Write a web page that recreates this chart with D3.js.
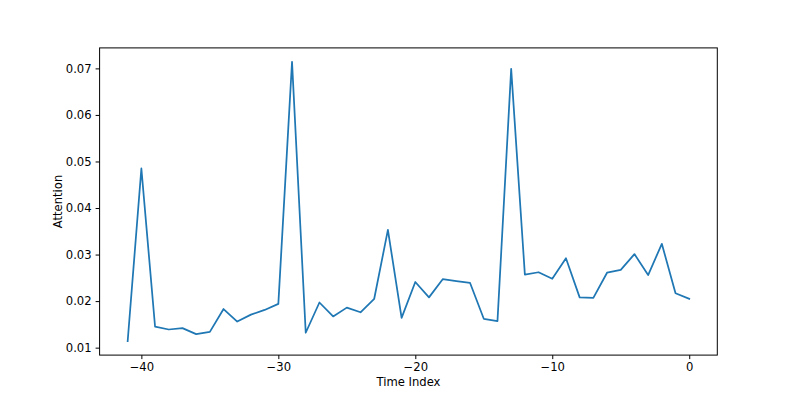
<!DOCTYPE html>
<html>
<head>
<meta charset="utf-8">
<script src="https://cdn.jsdelivr.net/npm/d3@7"></script>
<style>
  body { margin: 0; background: #fff; }
  svg { display: block; }
  .tick text { font-family: "DejaVu Sans", sans-serif; font-size: 11.6px; fill: #000; }
  .label { font-family: "DejaVu Sans", sans-serif; font-size: 11.6px; fill: #000; }
</style>
</head>
<body>
<svg id="chart"></svg>
<script>
var width = 797;
var height = 399;
var margin = {top: 47.9, right: 79.7, bottom: 43.9, left: 99.6};
var widthInner = width - margin.left - margin.right;
var heightInner = height - margin.top - margin.bottom;

// data
var timeIndex = d3.range(-41, 1);
var attention = [0.0114, 0.0485, 0.0145, 0.0139, 0.0142, 0.0129, 0.0134, 0.0183, 0.0156, 0.0171,
	0.0181, 0.0194, 0.0714, 0.0132, 0.0197, 0.0167, 0.0186, 0.0176, 0.0205, 0.0353,
	0.0164, 0.0241, 0.0208, 0.0247, 0.0243, 0.0239, 0.0162, 0.0157, 0.0699, 0.0257,
	0.0262, 0.0248, 0.0292, 0.0208, 0.0207, 0.0261, 0.0267, 0.0301, 0.0256, 0.0323,
	0.0217, 0.0205];
var xTicks = [-40, -30, -20, -10, 0];
var yTicks = [0.01, 0.02, 0.03, 0.04, 0.05, 0.06, 0.07];

var data = timeIndex.map(function(t, i) { return {t: t, v: attention[i]}; });

var svg = d3.select('#chart')
	.attr('width', width)
	.attr('height', height);

var g = svg.append('g')
	.attr('transform', 'translate(' + margin.left + ',' + margin.top + ')');

// matplotlib style 5% margins
var xExt = d3.extent(timeIndex);
var xPad = (xExt[1] - xExt[0]) * 0.05;
var yExt = d3.extent(attention);
var yPad = (yExt[1] - yExt[0]) * 0.05;

var x = d3.scaleLinear()
	.domain([xExt[0] - xPad, xExt[1] + xPad])
	.range([0, widthInner]);

var y = d3.scaleLinear()
	.domain([yExt[0] - yPad, yExt[1] + yPad])
	.range([heightInner, 0]);

var xAxis = d3.axisBottom(x)
	.tickValues(xTicks)
	.tickSize(4)
	.tickPadding(4)
	.tickFormat(function(d) { return d < 0 ? '\u2212' + Math.abs(d) : d; });

var yAxis = d3.axisLeft(y)
	.tickValues(yTicks)
	.tickSize(4)
	.tickPadding(4)
	.tickFormat(d3.format('.2f'));

var gx = g.append('g')
	.attr('transform', 'translate(0,' + heightInner + ')')
	.call(xAxis);

var gy = g.append('g')
	.call(yAxis);

[gx, gy].forEach(function(a) {
	a.select('.domain').remove();
	a.selectAll('.tick line').attr('stroke', '#000').attr('stroke-width', 1);
});

g.append('path')
	.datum(data)
	.attr('fill', 'none')
	.attr('stroke', '#1f77b4')
	.attr('stroke-width', 1.75)
	.attr('stroke-linejoin', 'round')
	.attr('stroke-linecap', 'square')
	.attr('d', d3.line()
		.x(function(d) { return x(d.t); })
		.y(function(d) { return y(d.v); }));

g.append('rect')
	.attr('width', widthInner)
	.attr('height', heightInner)
	.attr('fill', 'none')
	.attr('stroke', '#000')
	.attr('stroke-width', 1);

g.append('text')
	.attr('class', 'label')
	.attr('x', widthInner / 2)
	.attr('y', heightInner + 31)
	.attr('text-anchor', 'middle')
	.text('Time Index');

g.append('text')
	.attr('class', 'label')
	.attr('transform', 'translate(-38,' + (heightInner / 2) + ') rotate(-90)')
	.attr('text-anchor', 'middle')
	.text('Attention');
</script>
</body>
</html>
